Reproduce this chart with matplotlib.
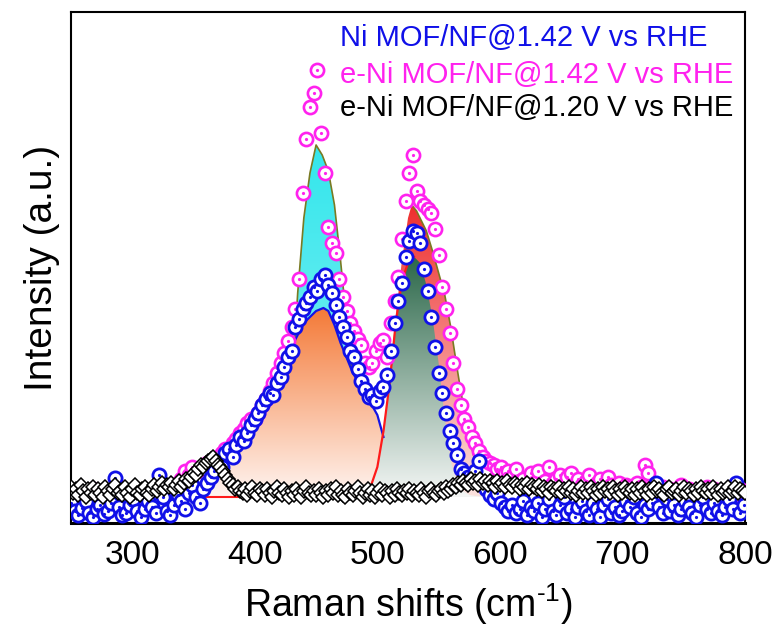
import numpy as np
import matplotlib
matplotlib.use("Agg")
import matplotlib.pyplot as plt
from matplotlib.patches import Polygon
from matplotlib.colors import LinearSegmentedColormap

plt.rcParams['font.family'] = ['Liberation Sans', 'DejaVu Sans']
plt.rcParams['mathtext.fontset'] = 'custom'
plt.rcParams['mathtext.rm'] = 'Liberation Sans'
plt.rcParams['mathtext.it'] = 'Liberation Sans:italic'

# Raman shift grids (cm-1)
shift_a = np.arange(250, 800, 3)      # Ni MOF/NF and e-Ni MOF/NF @1.42 V
shift_b = np.arange(250, 801, 2)      # e-Ni MOF/NF @1.20 V

ni_142 = [
    20, 12, 8, 15, 22, 10, 6, 14, 18, 9,
    12, 20, 45, 16, 8, 10, 18, 24, 12, 6,
    14, 22, 16, 10, 48, 26, 12, 8, 18, 28,
    22, 14, 30, 38, 26, 20, 34, 40, 46, 52,
    60, 56, 70, 74, 66, 78, 86, 82, 90, 98,
    104, 110, 118, 124, 130, 128, 140, 146, 156, 166,
    172, 196, 204, 214, 220, 226, 236, 232, 244, 248,
    238, 230, 218, 206, 196, 186, 172, 166, 154, 142,
    134, 126, 128, 122, 132, 136, 148, 172, 200, 222,
    240, 266, 282, 292, 290, 280, 254, 232, 206, 176,
    150, 130, 110, 92, 80, 68, 54, 50, 46, 44,
    52, 62, 40, 34, 28, 24, 30, 20, 16, 12,
    18, 10, 14, 22, 8, 16, 12, 20, 6, 14,
    24, 12, 8, 18, 26, 10, 14, 6, 16, 22,
    12, 8, 20, 14, 6, 18, 24, 10, 16, 8,
    12, 22, 16, 26, 10, 6, 18, 14, 20, 40,
    16, 10, 24, 12, 18, 8, 14, 22, 16, 10,
    6, 18, 26, 14, 10, 20, 12, 8, 16, 24,
    14, 40, 10, 18,
]

eni_142 = [
    30, 26, 32, 28, 24, 30, 34, 28, 26, 32,
    28, 24, 30, 36, 28, 26, 32, 30, 24, 28,
    32, 26, 30, 28, 34, 30, 26, 32, 36, 40,
    44, 52, 48, 56, 50, 46, 54, 60, 58, 62,
    66, 70, 74, 72, 80, 84, 90, 94, 100, 104,
    104, 110, 118, 124, 132, 140, 150, 160, 170, 182,
    196, 214, 244, 330, 384, 416, 430, 453, 390, 350,
    296, 280, 270, 244, 226, 212, 200, 192, 184, 178,
    160, 156, 160, 172, 180, 183, 166, 200, 222, 246,
    284, 322, 350, 368, 332, 322, 318, 314, 310, 294,
    268, 236, 214, 190, 160, 134, 118, 104, 96, 86,
    80, 72, 66, 62, 60, 58, 54, 56, 50, 52,
    46, 54, 42, 44, 36, 50, 40, 52, 38, 42,
    56, 40, 44, 48, 36, 46, 50, 34, 44, 38,
    42, 48, 36, 40, 44, 34, 46, 38, 36, 40,
    34, 38, 36, 32, 40, 36, 58, 50, 36, 32,
    30, 36, 28, 34, 32, 28, 38, 30, 34, 28,
    32, 28, 30, 36, 28, 34, 30, 26, 32, 28,
    30, 28, 34, 30,
]

eni_120 = [
    36, 30, 34, 28, 38, 32, 26, 34, 30, 36,
    28, 34, 30, 26, 36, 32, 28, 34, 38, 30,
    32, 28, 36, 30, 26, 34, 38, 30, 28, 34,
    36, 30, 28, 34, 38, 32, 36, 40, 34, 38,
    36, 40, 34, 38, 42, 36, 40, 44, 42, 46,
    50, 48, 54, 58, 56, 60, 62, 64, 66, 62,
    58, 56, 52, 48, 44, 40, 38, 34, 36, 32,
    30, 34, 28, 32, 36, 30, 28, 34, 32, 28,
    34, 30, 26, 32, 36, 30, 28, 34, 30, 26,
    32, 28, 34, 30, 26, 32, 36, 30, 28, 32,
    28, 34, 30, 26, 32, 28, 34, 30, 36, 28,
    32, 28, 26, 34, 30, 28, 32, 36, 30, 26,
    30, 34, 28, 32, 26, 30, 34, 28, 32, 30,
    26, 32, 28, 34, 30, 28, 32, 30, 34, 28,
    32, 30, 28, 34, 30, 26, 32, 34, 30, 28,
    32, 34, 30, 36, 32, 34, 38, 36, 40, 38,
    42, 40, 38, 44, 40, 42, 38, 44, 40, 42,
    38, 42, 40, 36, 42, 38, 40, 36, 42, 38,
    36, 40, 38, 34, 38, 36, 40, 34, 38, 36,
    34, 38, 32, 36, 34, 30, 36, 34, 32, 36,
    30, 34, 32, 36, 30, 34, 28, 32, 36, 30,
    34, 30, 36, 32, 28, 34, 30, 36, 32, 34,
    30, 36, 32, 28, 34, 30, 36, 32, 30, 34,
    28, 34, 30, 36, 32, 28, 34, 30, 36, 32,
    34, 30, 28, 34, 36, 30, 32, 34, 28, 32,
    36, 30, 34, 32, 28, 34, 30, 36, 32, 30,
    34, 30, 36, 32, 28, 34, 30, 32, 36, 30,
    32, 36, 30, 34, 32, 30,
]

# fitted peak components
fit_base = 26
cyan_x = [400, 410, 420, 425, 430, 435, 440, 445, 450, 455, 460, 465, 470, 475, 480, 485, 490, 495, 500, 510, 520]
cyan_y = [28, 36, 55, 80, 130, 230, 305, 350, 378, 368, 352, 318, 262, 200, 142, 98, 68, 50, 40, 30, 27]
red_x = [480, 485, 490, 495, 500, 505, 510, 515, 520, 525, 528, 532, 536, 540, 545, 550, 555, 560, 565, 570, 575, 580, 585, 590, 600]
red_y = [26, 27, 30, 39, 58, 94, 144, 208, 262, 305, 318, 312, 302, 292, 272, 250, 228, 195, 155, 118, 86, 60, 44, 34, 27]
orange_x = [340, 350, 360, 370, 380, 390, 400, 410, 420, 430, 440, 450, 456, 460, 465, 470, 475, 480, 490, 500, 505, 510, 515, 520, 530]
orange_y = [27, 30, 38, 56, 72, 86, 100, 116, 140, 176, 200, 212, 215, 212, 198, 180, 165, 150, 130, 108, 86, 70, 52, 38, 28]
green_x = [480, 485, 490, 495, 500, 505, 510, 515, 520, 525, 530, 535, 540, 545, 550, 555, 560, 565, 570, 575, 580, 590]
green_y = [26, 27, 30, 38, 56, 92, 140, 200, 242, 260, 266, 260, 238, 205, 160, 105, 62, 40, 32, 28, 27, 26]


def grad_fill(ax, xs, ys, base, c_top, c_bot, z):
    xs = np.asarray(xs, float)
    ys = np.asarray(ys, float)
    verts = np.column_stack([np.r_[xs, xs[::-1]], np.r_[ys, np.full(len(xs), base)]])
    clip = Polygon(verts, closed=True, facecolor='none', edgecolor='none')
    ax.add_patch(clip)
    cmap = LinearSegmentedColormap.from_list('g', [c_bot, c_top])
    grad = np.linspace(0, 1, 256).reshape(-1, 1)
    im = ax.imshow(grad, cmap=cmap, extent=[xs.min(), xs.max(), base, ys.max()],
                   origin='lower', aspect='auto', zorder=z, interpolation='bilinear')
    im.set_clip_path(clip)


fig = plt.figure(figsize=(7.79, 6.32), dpi=100)
ax = fig.add_axes([0.0911, 0.1725, 0.8653, 0.8085])

# cyan component and its outline sit under the orange one
grad_fill(ax, cyan_x, cyan_y, fit_base, '#33E6EC', '#8EF2F4', 1)
ax.plot(cyan_x, cyan_y, color='#7A7A22', lw=1.2, zorder=1.5)
grad_fill(ax, red_x, red_y, fit_base, '#EE2E2E', '#FBE2DE', 2)
rx = np.asarray(red_x)
ax.plot(rx[rx >= 528], np.asarray(red_y)[rx >= 528], color='#7A7A22', lw=1.2, zorder=2.5)
grad_fill(ax, orange_x, orange_y, fit_base, '#F47A38', '#FFF5F1', 3)
grad_fill(ax, green_x, green_y, fit_base, '#2C684A', '#F5F7F6', 4)

# fit outlines
ax.plot([350, 500], [fit_base, fit_base], color='#FF1A1A', lw=1.5, zorder=5)
ox = np.asarray(orange_x)
ax.plot(ox[ox <= 505], np.asarray(orange_y)[ox <= 505], color='#1414E6', lw=1.6, zorder=5)
gx = np.asarray(green_x)
ax.plot(gx[gx <= 530], np.asarray(green_y)[gx <= 530], color='#FF1A1A', lw=1.6, zorder=5)

# measured spectra
ax.plot(shift_a, eni_142, 'o', ms=9.5, mfc='white', mec='#FF22EE', mew=1.9, zorder=6)
ax.plot(shift_a, eni_142, 'o', ms=2.3, color='#FF22EE', mew=0, zorder=6)
ax.plot(shift_a, ni_142, 'o', ms=9.5, mfc='white', mec='#1010E8', mew=2.0, zorder=7)
ax.plot(shift_a, ni_142, 'o', ms=2.3, color='#1010E8', mew=0, zorder=7)
ax.plot(shift_b, eni_120, 'D', ms=7.5, mfc='white', mec='black', mew=1.1, zorder=8)

ax.set_xlim(250, 800)
ax.set_ylim(0, 511)
ax.set_xticks([300, 400, 500, 600, 700, 800])
ax.set_yticks([])
ax.tick_params(axis='x', length=0, labelsize=24, pad=12)
for s in ax.spines.values():
    s.set_linewidth(1.5)
ax.spines['bottom'].set_linewidth(2.2)

ax.set_xlabel('Raman shifts (cm$^{\u2010 1}$)', fontsize=27, labelpad=8)
ax.set_ylabel('Intensity (a.u.)', fontsize=28, labelpad=8)

ax.text(0.399, 0.949, 'Ni MOF/NF@1.42 V vs RHE', color='#1010E8', fontsize=21,
        transform=ax.transAxes, va='center', zorder=10)
ax.text(0.399, 0.877, 'e-Ni MOF/NF@1.42 V vs RHE', color='#FF22EE', fontsize=21,
        transform=ax.transAxes, va='center', zorder=10)
ax.text(0.399, 0.812, 'e-Ni MOF/NF@1.20 V vs RHE', color='black', fontsize=21,
        transform=ax.transAxes, va='center', zorder=10)

fig.savefig('out.png', dpi=100)
